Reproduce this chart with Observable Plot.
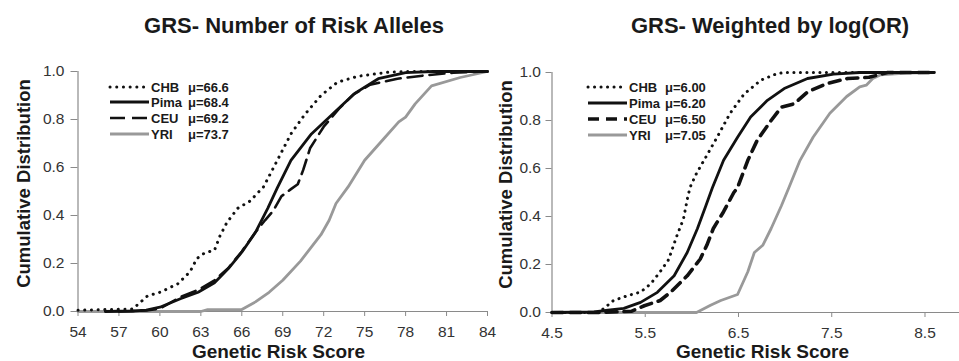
<!DOCTYPE html>
<html>
<head>
<meta charset="utf-8">
<script src="https://cdn.jsdelivr.net/npm/d3@7"></script>
<script src="https://cdn.jsdelivr.net/npm/@observablehq/plot@0.6"></script>
<style>
  body { margin: 0; background: #fff; }
  #wrap { position: relative; width: 959px; height: 361px; overflow: hidden; background: #fff; }
  #wrap > svg { position: absolute; top: 0; }
</style>
</head>
<body>
<div id="wrap"></div>
<script>
// ---------- data ----------
const groups = ["CHB", "Pima", "CEU", "YRI"];
const allelesMeans = ["66.6", "68.4", "69.2", "73.7"];
const weightedMeans = ["6.00", "6.20", "6.50", "7.05"];
const allelesTicks = [54, 57, 60, 63, 66, 69, 72, 75, 78, 81, 84];
const weightedTicks = [4.5, 5.5, 6.5, 7.5, 8.5];
const cdfTicks = [0, 0.2, 0.4, 0.6, 0.8, 1.0];
const titles = ["GRS- Number of Risk Alleles", "GRS- Weighted by log(OR)"];
const xTitle = "Genetic Risk Score";
const yTitle = "Cumulative Distribution";

// Panel 1: number of risk alleles
const allelesCHB_x = [54, 56, 58, 58.4, 59.1, 60, 61.3, 62.2, 62.7, 63.3, 64, 64.4, 64.9, 65.7, 66.6, 67.6, 68.6, 69.6, 70.6, 71.8, 73.0, 74.5, 76.7, 78, 84];
const allelesCHB_y = [0.005, 0.008, 0.01, 0.03, 0.065, 0.08, 0.115, 0.165, 0.22, 0.245, 0.255, 0.315, 0.37, 0.43, 0.46, 0.52, 0.63, 0.74, 0.82, 0.90, 0.955, 0.98, 0.997, 1.0, 1.0];
const allelesPima_x = [56, 58, 59, 60, 61.5, 62.8, 64, 65, 66, 67, 67.9, 68.6, 69.6, 71.1, 72.6, 74.3, 76, 78, 80, 84];
const allelesPima_y = [0, 0.002, 0.006, 0.018, 0.053, 0.08, 0.12, 0.178, 0.247, 0.33, 0.43, 0.515, 0.63, 0.74, 0.82, 0.91, 0.97, 0.995, 1.0, 1.0];
const allelesCEU_x = [57, 59, 60, 61.5, 62.8, 64, 65, 66, 67, 67.7, 68.3, 68.9, 69.6, 70.1, 70.5, 71, 72, 73.2, 74.2, 75.4, 77.4, 79.3, 81.5, 84];
const allelesCEU_y = [0, 0.004, 0.012, 0.06, 0.09, 0.13, 0.18, 0.25, 0.33, 0.38, 0.42, 0.48, 0.51, 0.53, 0.59, 0.68, 0.77, 0.85, 0.905, 0.945, 0.97, 0.983, 0.995, 1.0];
const allelesYRI_x = [54, 63, 63.5, 66, 67, 68, 69, 70.3, 71.8, 72.4, 72.9, 73.8, 75, 76.4, 77.5, 78, 78.7, 79.9, 82, 84];
const allelesYRI_y = [0, 0, 0.008, 0.008, 0.04, 0.08, 0.13, 0.21, 0.32, 0.38, 0.45, 0.52, 0.63, 0.72, 0.79, 0.81, 0.865, 0.94, 0.975, 1.0];

// Panel 2: weighted by log(OR)
const weightedCHB_x = [4.5, 5.0, 5.05, 5.16, 5.31, 5.45, 5.56, 5.66, 5.75, 5.84, 5.91, 5.96, 5.99, 6.05, 6.13, 6.27, 6.41, 6.56, 6.74, 6.91, 7.0, 8.6];
const weightedCHB_y = [0, 0, 0.015, 0.05, 0.07, 0.085, 0.12, 0.17, 0.22, 0.32, 0.39, 0.49, 0.53, 0.58, 0.634, 0.73, 0.83, 0.91, 0.968, 0.995, 1.0, 1.0];
const weightedPima_x = [4.5, 4.95, 5.1, 5.27, 5.45, 5.63, 5.81, 5.95, 6.06, 6.15, 6.22, 6.34, 6.49, 6.63, 6.81, 6.99, 7.24, 7.52, 7.8, 8.6];
const weightedPima_y = [0, 0.003, 0.01, 0.017, 0.042, 0.084, 0.153, 0.25, 0.35, 0.445, 0.52, 0.634, 0.73, 0.815, 0.884, 0.933, 0.975, 0.993, 1.0, 1.0];
const weightedCEU_x = [4.5, 5.0, 5.35, 5.49, 5.66, 5.77, 5.95, 6.09, 6.16, 6.23, 6.34, 6.45, 6.49, 6.6, 6.7, 6.85, 6.96, 7.1, 7.24, 7.45, 7.67, 7.9, 8.0, 8.1, 8.6];
const weightedCEU_y = [0, 0, 0.005, 0.028, 0.05, 0.084, 0.153, 0.223, 0.28, 0.35, 0.42, 0.5, 0.52, 0.634, 0.717, 0.8, 0.856, 0.87, 0.919, 0.954, 0.975, 0.98, 0.99, 1.0, 1.0];
const weightedYRI_x = [4.5, 6.05, 6.2, 6.31, 6.49, 6.6, 6.67, 6.76, 6.85, 6.96, 7.04, 7.16, 7.3, 7.48, 7.66, 7.8, 7.87, 7.94, 8.02, 8.3, 8.6];
const weightedYRI_y = [0, 0, 0.03, 0.05, 0.075, 0.17, 0.25, 0.28, 0.35, 0.445, 0.52, 0.634, 0.73, 0.83, 0.9, 0.94, 0.947, 0.975, 0.99, 0.997, 1.0];

// ---------- styling ----------
const FONT = "'Liberation Sans', Arial, Helvetica, sans-serif";
const AXIS_GRAY = "#8a8a8a";
const leftStyles = {
  CHB:  {stroke: "#111", strokeWidth: 3, strokeDasharray: "0.1 6.6", strokeLinecap: "round"},
  Pima: {stroke: "#111", strokeWidth: 2.8},
  CEU:  {stroke: "#111", strokeWidth: 2.6, strokeDasharray: "15 7"},
  YRI:  {stroke: "#999", strokeWidth: 2.8}
};
const rightStyles = {
  CHB:  {stroke: "#111", strokeWidth: 3, strokeDasharray: "0.1 6.4", strokeLinecap: "round"},
  Pima: {stroke: "#111", strokeWidth: 2.8},
  CEU:  {stroke: "#111", strokeWidth: 3.6, strokeDasharray: "11 7"},
  YRI:  {stroke: "#999", strokeWidth: 2.8}
};

function toRows(xs, ys) { return xs.map((x, i) => ({x, y: ys[i]})); }

const allelesSeries = {
  CHB: toRows(allelesCHB_x, allelesCHB_y),
  Pima: toRows(allelesPima_x, allelesPima_y),
  CEU: toRows(allelesCEU_x, allelesCEU_y),
  YRI: toRows(allelesYRI_x, allelesYRI_y)
};
const weightedSeries = {
  CHB: toRows(weightedCHB_x, weightedCHB_y),
  Pima: toRows(weightedPima_x, weightedPima_y),
  CEU: toRows(weightedCEU_x, weightedCEU_y),
  YRI: toRows(weightedYRI_x, weightedYRI_y)
};

const drawOrder = ["YRI", "CEU", "Pima", "CHB"];

function panel({series, styles, xTicks, xDomain, xFormat, width, marginLeft, marginRight, marginTop, marginBottom, yTickSize, yTickPadding}) {
  return Plot.plot({
    width, height: 361,
    marginLeft, marginRight, marginTop, marginBottom,
    x: {domain: xDomain},
    y: {domain: [0, 1]},
    style: {fontFamily: FONT, fontSize: "15.5px", color: "#333", background: "none", overflow: "visible"},
    marks: [
      Plot.ruleY([0], {stroke: AXIS_GRAY, strokeWidth: 1.2}),
      Plot.ruleX([xTicks[0]], {stroke: AXIS_GRAY, strokeWidth: 1.2}),
      Plot.axisX({ticks: xTicks, tickSize: 5, tickPadding: 9, tickFormat: xFormat, stroke: AXIS_GRAY, fill: "#333", label: null}),
      Plot.axisY({ticks: cdfTicks, tickSize: yTickSize, tickPadding: yTickPadding, tickFormat: d3.format(".1f"), stroke: AXIS_GRAY, fill: "#333", label: null}),
      ...drawOrder.map(g => Plot.line(series[g], {x: "x", y: "y", curve: "linear", ...styles[g]}))
    ]
  });
}

const wrap = document.getElementById("wrap");

const left = panel({
  series: allelesSeries, styles: leftStyles, xTicks: allelesTicks, xDomain: [54, 84], xFormat: d3.format("d"),
  width: 500, marginLeft: 77.5, marginRight: 13, marginTop: 71, marginBottom: 50, yTickSize: 7, yTickPadding: 6.5
});
left.style.left = "0px";
wrap.appendChild(left);

const right = panel({
  series: weightedSeries, styles: rightStyles, xTicks: weightedTicks, xDomain: [4.5, 8.87], xFormat: d3.format(".1f"),
  width: 479, marginLeft: 71.5, marginRight: 0, marginTop: 72, marginBottom: 49, yTickSize: 6, yTickPadding: 5
});
right.style.left = "480px";
wrap.appendChild(right);

// ---------- overlay text: titles, axis titles, legends ----------
const ov = d3.select(wrap).append("svg")
  .attr("width", 959).attr("height", 361)
  .style("left", "0px").style("pointer-events", "none")
  .style("font-family", FONT);

const panelsText = [
  {title: titles[0], tx: 294, xt: 278.5, yx: 29.5, yy: 183.5, means: allelesMeans, styles: leftStyles,
   lx1: 110, lx2: 149, lt: 151, lm: 188, rows: [87, 102, 118, 134]},
  {title: titles[1], tx: 770, xt: 762.5, yx: 511.5, yy: 184.5, means: weightedMeans, styles: rightStyles,
   lx1: 588, lx2: 627, lt: 629, lm: 665, rows: [87, 103, 119, 135]}
];

panelsText.forEach(p => {
  ov.append("text").attr("x", p.tx).attr("y", 33).attr("text-anchor", "middle")
    .attr("font-size", 22).attr("font-weight", "bold").attr("fill", "#1a1a1a").text(p.title);
  ov.append("text").attr("x", p.xt).attr("y", 358).attr("text-anchor", "middle")
    .attr("font-size", 19).attr("font-weight", "bold").attr("fill", "#1a1a1a").text(xTitle);
  ov.append("text").attr("transform", `translate(${p.yx},${p.yy}) rotate(-90)`).attr("text-anchor", "middle")
    .attr("font-size", 18.5).attr("font-weight", "bold").attr("fill", "#1a1a1a").text(yTitle);
  groups.forEach((g, i) => {
    const s = p.styles[g];
    const cy = p.rows[i];
    ov.append("line").attr("x1", p.lx1).attr("x2", p.lx2).attr("y1", cy).attr("y2", cy)
      .attr("stroke", s.stroke).attr("stroke-width", s.strokeWidth)
      .attr("stroke-dasharray", s.strokeDasharray || null)
      .attr("stroke-linecap", s.strokeLinecap || null);
    ov.append("text").attr("x", p.lt).attr("y", cy + 4.7).attr("font-size", 13).attr("font-weight", "bold")
      .attr("fill", "#1a1a1a").text(g);
    ov.append("text").attr("x", p.lm).attr("y", cy + 4.7).attr("font-size", 13).attr("font-weight", "bold")
      .attr("fill", "#1a1a1a").text("μ=" + p.means[i]);
  });
});
</script>
</body>
</html>
